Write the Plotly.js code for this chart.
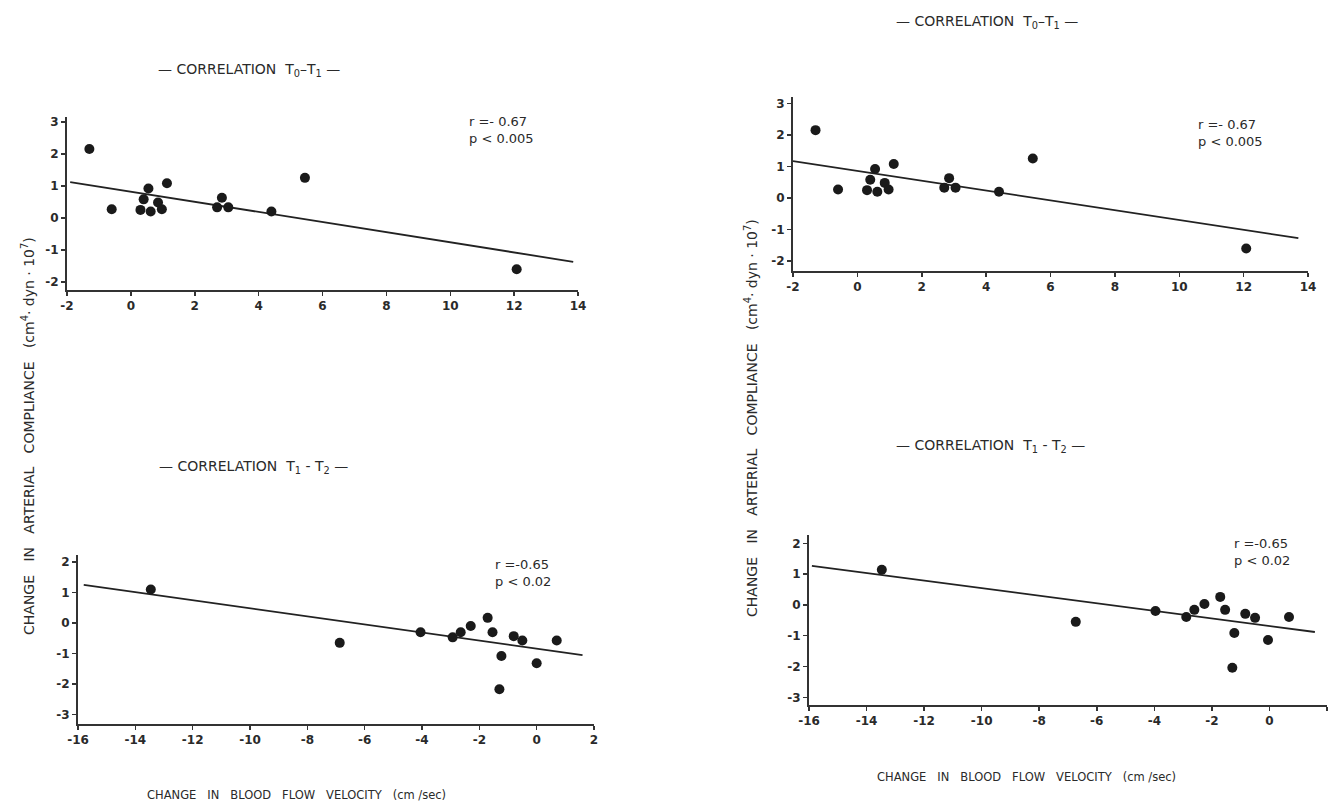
<!DOCTYPE html>
<html><head><meta charset="utf-8">
<script src="https://cdn.plot.ly/plotly-3.0.1.min.js"></script>
<style>html,body{margin:0;padding:0;background:#fff}#chart{width:1330px;height:803px}</style>
</head><body><div id="chart"></div>
<script>
// Correlation T0-T1 (left and right copies of the figure)
const t01X = [-1.3, -0.6, 0.3, 0.4, 0.55, 0.62, 0.85, 0.97, 1.13, 2.7, 2.85, 3.05, 4.4, 5.45, 12.08];
const t01Y = [2.15, 0.27, 0.25, 0.58, 0.92, 0.2, 0.48, 0.27, 1.08, 0.33, 0.63, 0.33, 0.2, 1.25, -1.6];
const fit01LX = [-1.9, 13.85], fit01LY = [1.12, -1.37];
const fit01RX = [-2.0, 13.7], fit01RY = [1.17, -1.27];
// Correlation T1-T2
const t12XL = [-13.46, -6.87, -4.05, -2.93, -2.65, -2.3, -1.71, -1.54, -1.23, -1.3, -0.8, -0.5, 0.0, 0.7];
const t12YL = [1.1, -0.65, -0.3, -0.47, -0.3, -0.1, 0.17, -0.3, -1.08, -2.17, -0.43, -0.57, -1.32, -0.57];
const t12XR = [-13.47, -6.73, -3.96, -2.89, -2.61, -2.26, -1.71, -1.54, -1.22, -1.29, -0.84, -0.5, -0.05, 0.68];
const t12YR = [1.14, -0.55, -0.2, -0.39, -0.16, 0.03, 0.26, -0.16, -0.91, -2.04, -0.29, -0.42, -1.14, -0.39];
const fit12LX = [-15.8, 1.6], fit12LY = [1.25, -1.05];
const fit12RX = [-15.9, 1.58], fit12RY = [1.27, -0.88];
// tick labels
const xTicksTop = [-2, 0, 2, 4, 6, 8, 10, 12, 14];
const xTicksBot = [-16, -14, -12, -10, -8, -6, -4, -2, 0, 2];
const yTicksTop = [-2, -1, 0, 1, 2, 3];
const yTicksBot = [-3, -2, -1, 0, 1, 2];
const lab = v => String(v);

const mk = {color:'#1a1a1a', size:10};
const ln = {color:'#222', width:1.8};
function pts(x,y,ax){return {x:x,y:y,xaxis:'x'+ax,yaxis:'y'+ax,mode:'markers',type:'scatter',marker:mk,hoverinfo:'skip'};}
function fit(x,y,ax){return {x:x,y:y,xaxis:'x'+ax,yaxis:'y'+ax,mode:'lines',type:'scatter',line:ln,hoverinfo:'skip'};}

const data = [
  fit(fit01LX, fit01LY, ''), pts(t01X, t01Y, ''),
  fit(fit01RX, fit01RY, '2'), pts(t01X, t01Y, '2'),
  fit(fit12LX, fit12LY, '3'), pts(t12XL, t12YL, '3'),
  fit(fit12RX, fit12RY, '4'), pts(t12XR, t12YR, '4')
];

const W = 1330, H = 803;
const FAM = '"DejaVu Sans", "Liberation Sans", sans-serif';
const tf = {family:FAM, size:12, color:'#2a2a2a', weight:700};
function xa(px0, px1, rng, ticks, anchor){
  return {domain:[px0/W, px1/W], range:rng, anchor:anchor, showgrid:false, zeroline:false,
    showline:true, linecolor:'#333', linewidth:2, ticks:'outside', ticklen:4, tickwidth:1.5, tickcolor:'#333',
    tickvals:ticks, ticktext:ticks.map(lab), tickfont:tf, fixedrange:true};
}
function ya(py1, py0, rng, ticks, anchor){
  return {domain:[1-py0/H, 1-py1/H], range:rng, anchor:anchor, showgrid:false, zeroline:false,
    showline:true, linecolor:'#333', linewidth:2, ticks:'outside', ticklen:4, tickwidth:1.5, tickcolor:'#333',
    tickvals:ticks, ticktext:ticks.map(lab), tickfont:tf, fixedrange:true};
}

const titleFont = {family:FAM, size:14, color:'#2a2a2a'};
const statFont = {family:FAM, size:13, color:'#2a2a2a'};
const labFont = {family:FAM, size:14, color:'#2a2a2a'};
const sp = '\u00a0\u00a0\u00a0';
const ytxt = 'CHANGE'+sp+'IN'+sp+'ARTERIAL'+sp+'COMPLIANCE'+sp+'(cm<sup>4</sup>·\u00a0dyn\u00a0·\u00a010<sup>7</sup>)';
const xtxt = 'CHANGE'+sp+'IN'+sp+'BLOOD'+sp+'FLOW'+sp+'VELOCITY'+sp+'(cm\u00a0/sec)';
function pa(px, py, text, font, extra){return Object.assign({xref:'paper', yref:'paper', x:px/W, y:1-py/H, text:text, showarrow:false, font:font, xanchor:'center', yanchor:'middle'}, extra||{});}

const layout = {
  width:W, height:H, margin:{l:0,r:0,t:0,b:0}, showlegend:false,
  paper_bgcolor:'#fff', plot_bgcolor:'rgba(0,0,0,0)',
  xaxis: xa(67, 578, [-2, 14], xTicksTop, 'y'),
  yaxis: ya(117, 290, [-2.25, 3.15], yTicksTop, 'x'),
  xaxis2: xa(793, 1308, [-2, 14], xTicksTop, 'y2'),
  yaxis2: ya(97, 271, [-2.31, 3.2], yTicksTop, 'x2'),
  xaxis3: xa(78, 594, [-16, 2], xTicksBot, 'y3'),
  yaxis3: ya(555, 724, [-3.31, 2.23], yTicksBot, 'x3'),
  xaxis4: xa(809, 1327, [-16, 2], xTicksBot, 'y4'),
  yaxis4: ya(535, 705, [-3.25, 2.27], yTicksBot, 'x4'),
  annotations: [
    pa(249, 70, '— CORRELATION\u00a0\u00a0T<sub>0</sub>\u2013T<sub>1</sub> —', titleFont),
    pa(987, 22, '— CORRELATION\u00a0\u00a0T<sub>0</sub>\u2013T<sub>1</sub> —', titleFont),
    pa(253, 467, '— CORRELATION\u00a0\u00a0T<sub>1</sub>\u00a0-\u00a0T<sub>2</sub> —', titleFont),
    pa(991, 446, '— CORRELATION\u00a0\u00a0T<sub>1</sub>\u00a0-\u00a0T<sub>2</sub> —', titleFont),
    pa(467, 130, 'r\u00a0=-\u00a00.67<br>p\u00a0<\u00a00.005', statFont, {xanchor:'left', align:'left'}),
    pa(1196, 133, 'r\u00a0=-\u00a00.67<br>p\u00a0<\u00a00.005', statFont, {xanchor:'left', align:'left'}),
    pa(493, 573, 'r\u00a0=-0.65<br>p\u00a0<\u00a00.02', statFont, {xanchor:'left', align:'left'}),
    pa(1232, 552, 'r\u00a0=-0.65<br>p\u00a0<\u00a00.02', statFont, {xanchor:'left', align:'left'}),
    pa(28, 436, ytxt, labFont, {textangle:-90}),
    pa(751, 418, ytxt, labFont, {textangle:-90}),
    pa(296, 795, xtxt, {family:FAM, size:11.5, color:'#2a2a2a'}),
    pa(1026, 777, xtxt, {family:FAM, size:11.5, color:'#2a2a2a'})
  ]
};
Plotly.newPlot('chart', data, layout, {displayModeBar:false, staticPlot:true});
</script>
</body></html>
